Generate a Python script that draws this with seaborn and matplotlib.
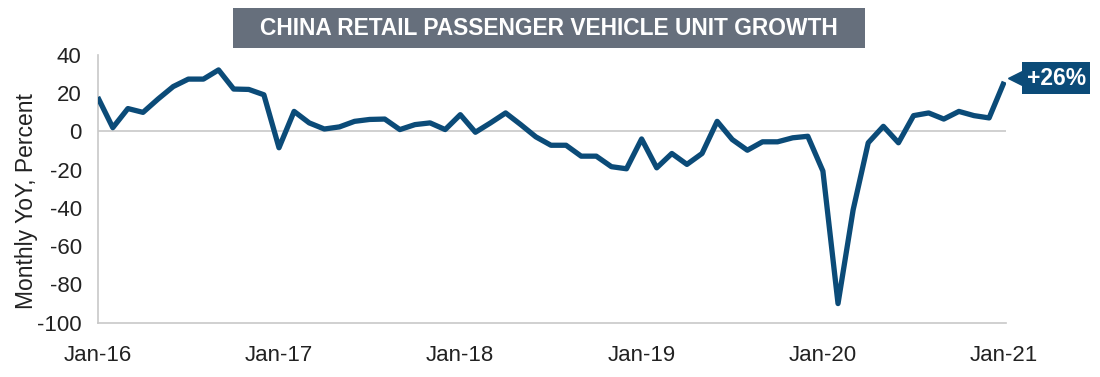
import numpy as np
import pandas as pd
import seaborn as sns
import matplotlib.pyplot as plt
from matplotlib.patches import Rectangle
from matplotlib.transforms import offset_copy

# Monthly YoY growth (%), Jan-16 .. Jan-21
yoy = [18, 2, 12, 10, 17, 23.5, 27.4, 27.4, 32.2, 22.2, 22, 19.2,
       -8.5, 10.5, 4.5, 1.3, 2.4, 5.3, 6.3, 6.5, 1, 3.6, 4.5, 1,
       8.8, -0.4, 4.5, 9.7, 3.6, -2.8, -7.2, -7.2, -12.9, -12.9, -18.4, -19.5,
       -3.9, -19, -11.5, -17.2, -11.5, 5.3, -4.2, -9.8, -5.4, -5.4, -3.3, -2.5,
       -20.7, -90, -41, -5.9, 2.7, -5.9, 8.3, 9.7, 6.5, 10.5, 8.3, 7.1,
       26]
tick_labels = ['Jan-16', 'Jan-17', 'Jan-18', 'Jan-19', 'Jan-20', 'Jan-21']
y_ticks = [40, 20, 0, -20, -40, -60, -80, -100]
title = 'CHINA RETAIL PASSENGER VEHICLE UNIT GROWTH'
last_label = '+26%'

df = pd.DataFrame({'month': np.arange(len(yoy)), 'yoy': yoy})

blue = '#0b4b78'
grey = '#c8c8c8'
text_col = '#222222'

sns.set_style('white')
plt.rcParams['font.family'] = ['Liberation Sans', 'DejaVu Sans']
plt.rcParams['axes.unicode_minus'] = False

fig = plt.figure(figsize=(11, 3.77), dpi=100)
ax = fig.add_axes([0.0888, 0.1440, 0.8255, 0.7101])

ax.axhline(0, color=grey, lw=1.2, zorder=1)
sns.lineplot(data=df, x='month', y='yoy', color=blue, linewidth=3.8, ax=ax,
             solid_capstyle='butt', zorder=3)

ax.set_xlim(0, 60.1)
ax.set_ylim(-100, 40)
ax.set_yticks(y_ticks)
ax.set_xticks(df['month'][::12])
ax.set_xticklabels(tick_labels)

for s in ['top', 'right']:
    ax.spines[s].set_visible(False)
for s in ['left', 'bottom']:
    ax.spines[s].set_color(grey)
    ax.spines[s].set_linewidth(1.2)

ax.tick_params(axis='y', direction='in', length=16, width=1.2, color=grey,
               pad=11.5, labelsize=16, labelcolor=text_col)
ax.tick_params(axis='x', length=0, pad=16, labelsize=16, labelcolor=text_col)

ax.set_xlabel('')
ax.set_ylabel('Monthly YoY, Percent', fontsize=16.5, color=text_col)
ax.yaxis.set_label_coords(-0.066, 0.4546)

# end-of-series callout
x_last, y_last = df['month'].iloc[-1], df['yoy'].iloc[-1]
tri = offset_copy(ax.transData, fig=fig, x=10.75, y=3.5, units='dots')
ax.plot([x_last], [y_last], marker='<', markersize=10, color=blue,
        transform=tri, clip_on=False)
ax.annotate(last_label, xy=(x_last, y_last), xytext=(52, 3.4),
            textcoords='offset pixels', ha='center', va='center',
            fontsize=16.5, fontweight='bold', color='white',
            bbox=dict(boxstyle='square,pad=0.2', fc=blue, ec='none'),
            annotation_clip=False)

# title banner
fig.patches.append(Rectangle((0.2118, 0.8727), 0.5745, 0.1061,
                             transform=fig.transFigure, fc='#666f7c',
                             ec='none'))
fig.text(0.499, 0.925, title, ha='center', va='center', color='white',
         fontsize=16.4, fontweight='bold')

fig.savefig('out.png', dpi=100)
